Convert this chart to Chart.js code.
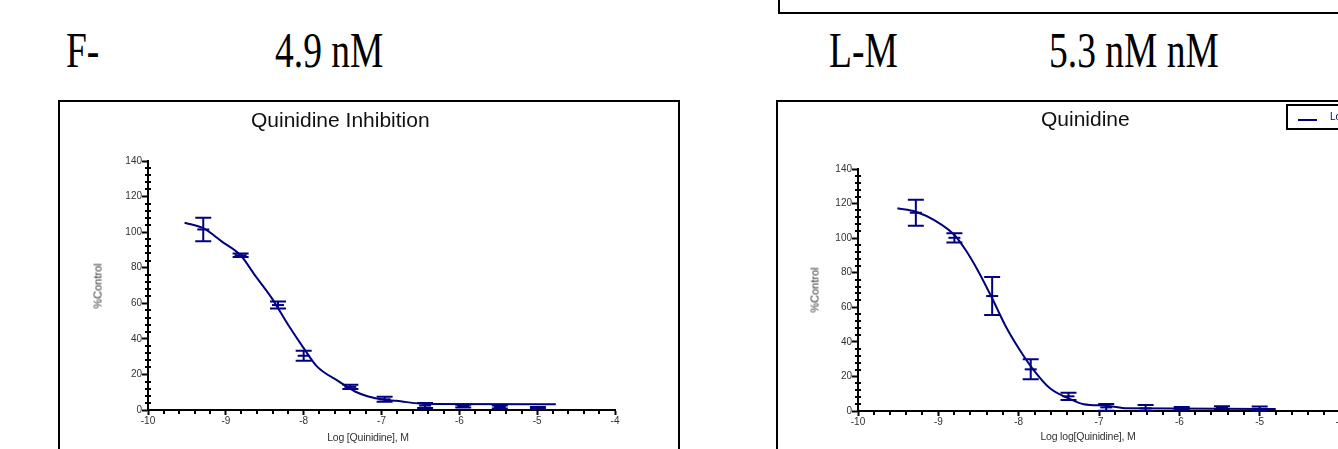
<!DOCTYPE html>
<html>
<head>
<meta charset="utf-8">
<script src="https://cdn.jsdelivr.net/npm/chart.js@4"></script>
<style>
  body { margin: 0; width: 1338px; height: 449px; overflow: hidden; position: relative; background: #fff; }
  .big { position: absolute; top: 25px; font: 50px/50px 'Liberation Serif', 'Times New Roman', serif; transform: scaleX(0.75); transform-origin: 0 0; white-space: nowrap; color: #000; }
  .frame { position: absolute; border: 2px solid #000; box-sizing: border-box; }
  .lbl { position: absolute; font-family: 'Liberation Sans', Arial, sans-serif; white-space: nowrap; }
  .title { font-size: 21px; line-height: 21px; color: #111; }
  .ytitle { font-size: 11px; line-height: 11px; color: #333; transform: translate(-50%, -50%) rotate(-90deg); }
  .xtitle { font-size: 10.5px; line-height: 11px; color: #333; transform: translate(-50%, -50%); letter-spacing: -0.2px; }
  canvas { position: absolute; }
</style>
</head>
<body>
<div class="frame" style="left:778px; top:-20px; width:700px; height:34px;"></div>

<div class="big" style="left:66px;">F-</div>
<div class="big" style="left:275px;">4.9 nM</div>
<div class="big" style="left:829px;">L-M</div>
<div class="big" style="left:1049px;">5.3 nM nM</div>

<div class="frame" style="left:58px; top:100px; width:622px; height:400px;"></div>
<div class="frame" style="left:776px; top:100px; width:700px; height:400px;"></div>

<canvas id="chartF" width="618" height="347" style="left:60px; top:102px;"></canvas>
<canvas id="chartLM" width="620" height="347" style="left:778px; top:102px;"></canvas>

<div class="lbl title" style="left:251px; top:109px;">Quinidine Inhibition</div>
<div class="lbl title" style="left:1041px; top:108px;">Quinidine</div>
<div class="lbl ytitle" style="left:98px; top:286px;">%Control</div>
<div class="lbl ytitle" style="left:815px; top:290px;">%Control</div>
<div class="lbl xtitle" style="left:368px; top:437px;">Log [Quinidine], M</div>
<div class="lbl xtitle" style="left:1088px; top:436px;">Log log[Quinidine], M</div>

<div class="frame" style="left:1286px; top:104px; width:200px; height:26px;">
  <div style="position:absolute; left:10px; top:13px; width:19px; height:2px; background:#000080;"></div>
  <div class="lbl" style="left:42px; top:6px; font-size:10px; line-height:10px; color:#000080;">Log(inhibitor) vs. response</div>
</div>

<script>
// axis ticks
const xTicks = [-10, -9, -8, -7, -6, -5, -4];
const yTicks = [0, 20, 40, 60, 80, 100, 120, 140];

// F- : measured points (log M, % control, error)
const fDoses = [-9.29, -8.81, -8.33, -8.00, -7.40, -6.96, -6.44, -5.95, -5.48, -4.99];
const fMeans = [101.5, 87.0, 59.0, 30.5, 13.0, 6.0, 2.5, 2.2, 1.7, 1.1];
const fErrors = [6.6, 1.0, 2.0, 2.8, 1.2, 1.4, 1.4, 0.8, 0.8, 0.6];
// F- : fitted curve
const fCurveX = [-9.53, -9.29, -9.05, -8.81, -8.63, -8.41, -8.20, -8.00, -7.83, -7.55, -7.34, -7.17, -6.96, -6.81, -6.44, -4.76];
const fCurveY = [105.3, 102.2, 94.7, 87.0, 76.0, 62.9, 47.9, 34.8, 24.5, 16.1, 10.4, 7.6, 5.8, 5.2, 3.4, 3.2];

// L-M : measured points
const lmDoses = [-9.28, -8.80, -8.33, -7.85, -7.38, -6.91, -6.42, -5.97, -5.47, -5.00];
const lmMeans = [114.7, 100.2, 66.5, 24.1, 8.5, 2.1, 1.5, 1.5, 1.9, 1.1];
const lmErrors = [7.5, 2.7, 11.0, 5.8, 2.1, 2.0, 2.0, 0.8, 0.8, 1.5];
// L-M : fitted curve
const lmCurveX = [-9.51, -9.28, -9.04, -8.80, -8.66, -8.50, -8.33, -8.17, -8.00, -7.83, -7.61, -7.38, -7.19, -6.90, -6.65, -4.80];
const lmCurveY = [117.3, 115.3, 110.1, 101.8, 93.1, 80.6, 65.2, 49.8, 36.3, 24.7, 13.1, 7.3, 3.9, 3.1, 1.6, 1.2];

const navy = '#000080';
Chart.defaults.font.family = "'Liberation Sans', Arial, sans-serif";

// error bars with caps
const errorBars = {
    id: 'errorBars',
    afterDatasetsDraw(chart, args, opts) {
        const { ctx, scales: { x, y } } = chart;
        ctx.save();
        ctx.strokeStyle = navy;
        ctx.lineWidth = 2;
        opts.doses.forEach((d, i) => {
            const px = x.getPixelForValue(d);
            const top = y.getPixelForValue(opts.means[i] + opts.errors[i]);
            const bot = y.getPixelForValue(Math.max(0, opts.means[i] - opts.errors[i]));
            ctx.beginPath();
            ctx.moveTo(px, top); ctx.lineTo(px, bot);
            ctx.moveTo(px - 8, top); ctx.lineTo(px + 8, top);
            ctx.moveTo(px - 8, bot); ctx.lineTo(px + 8, bot);
            ctx.stroke();
        });
        ctx.restore();
    }
};

// minor ticks on both axes
const minorTicks = {
    id: 'minorTicks',
    afterDraw(chart) {
        const { ctx, scales: { x, y } } = chart;
        ctx.save();
        ctx.strokeStyle = '#000';
        ctx.lineWidth = 2;
        ctx.beginPath();
        for (let v = 0; v <= 140; v += 4) {
            if (v % 20 === 0) continue;
            const py = Math.round(y.getPixelForValue(v));
            ctx.moveTo(x.left - 3, py); ctx.lineTo(x.left + 3, py);
        }
        for (let i = 0; i <= 30; i++) {
            if (i % 5 === 0) continue;
            const px = Math.round(x.getPixelForValue(-10 + i * 0.2));
            ctx.moveTo(px, y.bottom); ctx.lineTo(px, y.bottom + 4);
        }
        ctx.stroke();
        ctx.restore();
    }
};

function makeChart(id, doses, means, errors, curveX, curveY, box) {
    return new Chart(document.getElementById(id), {
        type: 'scatter',
        data: {
            datasets: [{
                type: 'line',
                data: curveX.map((v, i) => ({ x: v, y: curveY[i] })),
                borderColor: navy,
                borderWidth: 2,
                pointRadius: 0,
                fill: false,
                cubicInterpolationMode: 'monotone'
            }, {
                data: doses.map((v, i) => ({ x: v, y: means[i] })),
                pointStyle: 'line',
                pointRadius: 6,
                borderColor: navy,
                borderWidth: 2,
                backgroundColor: navy
            }]
        },
        options: {
            responsive: false,
            animation: false,
            layout: { padding: { left: 0, top: box.top, right: box.right, bottom: 0 } },
            plugins: {
                legend: { display: false },
                tooltip: { enabled: false },
                errorBars: { doses: doses, means: means, errors: errors }
            },
            scales: {
                x: {
                    type: 'linear',
                    min: xTicks[0],
                    max: xTicks[xTicks.length - 1],
                    afterFit: s => { s.height = box.xh; },
                    ticks: { stepSize: 1, color: '#333', font: { size: 10 }, padding: 0 },
                    grid: { drawOnChartArea: false, tickLength: 5, tickWidth: 2, tickColor: '#000' },
                    border: { color: '#000', width: 2 }
                },
                y: {
                    min: yTicks[0],
                    max: yTicks[yTicks.length - 1],
                    afterFit: s => { s.width = box.yw; },
                    ticks: { stepSize: 20, color: '#333', font: { size: 10 }, padding: 0 },
                    grid: { drawOnChartArea: false, tickLength: 6, tickWidth: 2, tickColor: '#000' },
                    border: { color: '#000', width: 2 }
                }
            }
        },
        plugins: [errorBars, minorTicks]
    });
}

makeChart('chartF', fDoses, fMeans, fErrors, fCurveX, fCurveY, { top: 59, right: 63, xh: 39, yw: 88 });
makeChart('chartLM', lmDoses, lmMeans, lmErrors, lmCurveX, lmCurveY, { top: 67, right: 58, xh: 38, yw: 80 });
</script>
</body>
</html>
